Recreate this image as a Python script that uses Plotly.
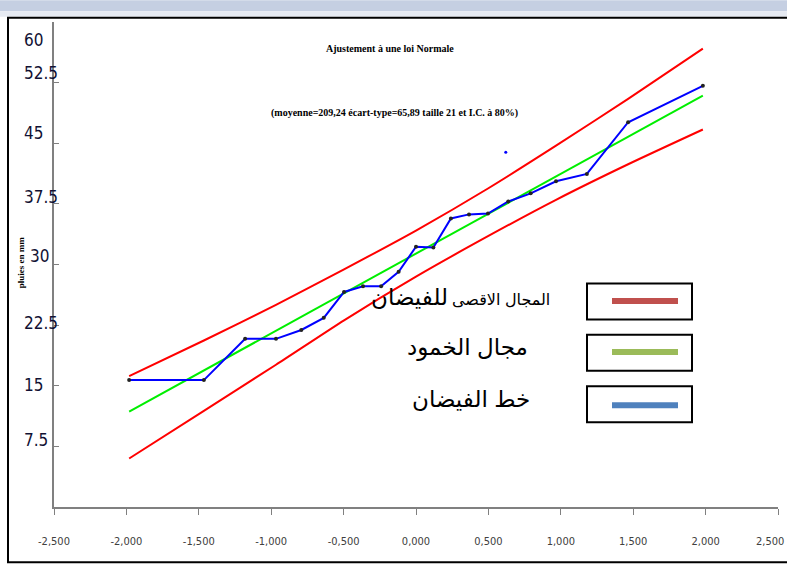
import plotly.graph_objects as go

# ---------------- data ----------------
quantiles = [-1.981, -1.465, -1.180, -0.967, -0.792, -0.637, -0.497, -0.366, -0.241, -0.120,
             0.000, 0.120, 0.241, 0.366, 0.497, 0.637, 0.792, 0.967, 1.180, 1.465, 1.981]
rain = [15.7, 15.7, 20.8, 20.8, 21.9, 23.4, 26.6, 27.3, 27.3, 29.1,
        32.2, 32.1, 35.7, 36.2, 36.3, 37.8, 38.8, 40.3, 41.2, 47.6, 52.1]

fit_x = [-1.981, 1.981]
fit_y = [11.8, 50.9]

band_x = [-1.981, -1.465, -0.967, -0.497, 0.000, 0.497, 0.967, 1.465, 1.981]
band_upper = [16.2, 20.6, 25.0, 29.4, 34.2, 39.4, 44.7, 50.5, 56.7]
band_lower = [6.0, 11.9, 17.6, 23.1, 28.5, 33.5, 38.0, 42.4, 46.7]

stray_x = [0.62]
stray_y = [43.9]

x_ticks = [-2.5, -2.0, -1.5, -1.0, -0.5, 0.0, 0.5, 1.0, 1.5, 2.0, 2.5]
x_ticktext = ["-2,500", "-2,000", "-1,500", "-1,000", "-0,500", "0,000",
              "0,500", "1,000", "1,500", "2,000", "2,500"]
y_ticks = [7.5, 15, 22.5, 30, 37.5, 45, 52.5, 60]
y_ticktext = ["7.5", "15", "22.5", "30", "37.5", "45", "52.5", "60"]

title_text = "Ajustement à une loi Normale"
subtitle_text = "(moyenne=209,24 écart-type=65,89 taille 21 et I.C. à 80%)"
y_title = "pluies en mm"
legend_labels = ["مجال الخمود", "خط الفيضان"]
legend_first_a = "المجال الاقصى"
legend_first_b = "للفيضان"
legend_colors = ["#c0504d", "#9bbb59", "#4f81bd"]

# ---------------- layout geometry ----------------
W, H = 787, 570
L, R, T, B = 54, 778, 21.7, 506.7


def px(x):
    return (x - L) / (R - L)


def py(y):
    return (B - y) / (B - T)


NARROW = "Liberation Sans Narrow, Arial Narrow, DejaVu Sans Condensed, sans-serif"
SERIF = "Liberation Serif, Times New Roman, serif"
ARABIC = "Liberation Sans, DejaVu Sans, Noto Sans, sans-serif"

fig = go.Figure()

fig.add_trace(go.Scatter(x=band_x, y=band_upper, mode="lines",
                         line=dict(color="#ff0000", width=2, shape="spline", smoothing=0.6),
                         hoverinfo="skip"))
fig.add_trace(go.Scatter(x=band_x, y=band_lower, mode="lines",
                         line=dict(color="#ff0000", width=2, shape="spline", smoothing=0.6),
                         hoverinfo="skip"))
fig.add_trace(go.Scatter(x=fit_x, y=fit_y, mode="lines",
                         line=dict(color="#00ee00", width=2), hoverinfo="skip"))
fig.add_trace(go.Scatter(x=quantiles, y=rain, mode="lines+markers",
                         line=dict(color="#0000ff", width=2),
                         marker=dict(color="#222222", size=4)))
fig.add_trace(go.Scatter(x=stray_x, y=stray_y, mode="markers",
                         marker=dict(color="#0000ff", size=3)))

shapes = []
# top band of the page
shapes.append(dict(type="rect", xref="paper", yref="paper",
                   x0=px(0), x1=px(W), y0=py(11), y1=py(0),
                   fillcolor="#c5cfe2", line=dict(width=0), layer="below"))
shapes.append(dict(type="rect", xref="paper", yref="paper",
                   x0=px(0), x1=px(W), y0=py(16.5), y1=py(11),
                   fillcolor="#e6eaf2", line=dict(width=0), layer="below"))
# outer frame
shapes.append(dict(type="rect", xref="paper", yref="paper",
                   x0=px(8), x1=px(W + 20), y0=py(562), y1=py(17.5),
                   line=dict(color="#000000", width=2), layer="below"))
# legend boxes
box_tops = [283.3, 334.5, 386.0]
line_ys = [300.7, 351.7, 405.0]
for top, ly, col in zip(box_tops, line_ys, legend_colors):
    shapes.append(dict(type="rect", xref="paper", yref="paper",
                       x0=px(587), x1=px(692), y0=py(top + 36), y1=py(top),
                       line=dict(color="#000000", width=2)))
    shapes.append(dict(type="line", xref="paper", yref="paper",
                       x0=px(612), x1=px(678), y0=py(ly), y1=py(ly),
                       line=dict(color=col, width=6)))

annotations = []
annotations.append(dict(text="<b>" + title_text + "</b>", xref="paper", yref="paper",
                        x=px(390), y=py(48), xanchor="center", yanchor="middle",
                        showarrow=False,
                        font=dict(family=SERIF, size=10, color="#000000")))
annotations.append(dict(text="<b>" + subtitle_text + "</b>", xref="paper", yref="paper",
                        x=px(394), y=py(113), xanchor="center", yanchor="middle",
                        showarrow=False,
                        font=dict(family=SERIF, size=10, color="#000000")))
annotations.append(dict(text="<b>" + y_title + "</b>", xref="paper", yref="paper",
                        x=px(21), y=py(262), xanchor="center", yanchor="middle",
                        showarrow=False, textangle=-90,
                        font=dict(family=SERIF, size=9, color="#000000")))

ylabel_shift = [6, 1, 2, 9, 7, 10, 10, -18]
ylabel_xshift = [0, 0, 0, 6, 0, 0, 0, 0]
for v, t, s, xs in zip(y_ticks, y_ticktext, ylabel_shift, ylabel_xshift):
    annotations.append(dict(text=t, xref="paper", yref="y", x=px(22), y=v,
                            xanchor="left", yanchor="middle", yshift=s, xshift=xs,
                            showarrow=False,
                            font=dict(family=NARROW, size=17, color="#111133")))

# last x tick label sits against the right edge of the page (as in the reference)
annotations.append(dict(text=x_ticktext[-1], xref="paper", yref="paper",
                        x=px(786), y=py(541), xanchor="right", yanchor="middle",
                        showarrow=False,
                        font=dict(family=NARROW, size=11, color="#404040")))

# legend texts
annotations.append(dict(text=legend_first_a, xref="paper", yref="paper",
                        x=px(552), y=py(299), xanchor="right", yanchor="middle",
                        showarrow=False,
                        font=dict(family=ARABIC, size=16, color="#000000")))
annotations.append(dict(text=legend_first_b, xref="paper", yref="paper",
                        x=px(450), y=py(297), xanchor="right", yanchor="middle",
                        showarrow=False,
                        font=dict(family=ARABIC, size=23, color="#000000")))
annotations.append(dict(text=legend_labels[0], xref="paper", yref="paper",
                        x=px(530), y=py(347), xanchor="right", yanchor="middle",
                        showarrow=False,
                        font=dict(family=ARABIC, size=23, color="#000000")))
annotations.append(dict(text=legend_labels[1], xref="paper", yref="paper",
                        x=px(532), y=py(399), xanchor="right", yanchor="middle",
                        showarrow=False,
                        font=dict(family=ARABIC, size=23, color="#000000")))

fig.update_layout(
    width=W, height=H, autosize=False,
    margin=dict(l=L, r=W - R, t=T, b=H - B, pad=0, autoexpand=False),
    paper_bgcolor="#ffffff", plot_bgcolor="#ffffff",
    showlegend=False,
    shapes=shapes, annotations=annotations,
    xaxis=dict(range=[-2.5, 2.5], tickvals=x_ticks,
               ticktext=x_ticktext[:-1] + [""],
               showgrid=False, zeroline=False, showline=True,
               linecolor="#808080", linewidth=2, automargin=False,
               ticks="outside", ticklen=6, tickcolor="#808080", tickwidth=1,
               ticklabelstandoff=17, ticklabeloverflow="allow",
               tickfont=dict(family=NARROW, size=11, color="#404040")),
    yaxis=dict(range=[0, 60], tickvals=[0] + y_ticks, showticklabels=False,
               showgrid=False, zeroline=False, showline=True,
               linecolor="#808080", linewidth=2, automargin=False,
               ticks="inside", ticklen=5, tickcolor="#808080", tickwidth=1),
)

fig.write_html("out.html", config={"displayModeBar": False, "responsive": False},
               post_script="document.body.style.margin='0px';document.body.style.overflow='hidden';")
